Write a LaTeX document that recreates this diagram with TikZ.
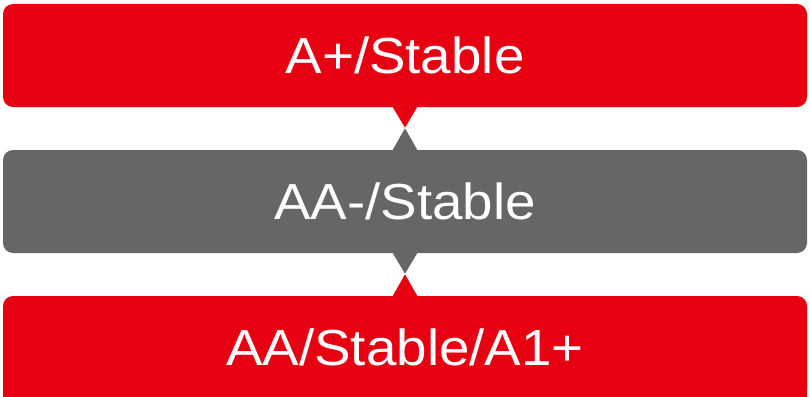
\documentclass[tikz,border=0pt]{standalone}
\usepackage{fontspec}
\setmainfont{Liberation Sans}[FakeStretch=1.08]
\definecolor{brandred}{HTML}{E60012}
\definecolor{boxgray}{HTML}{666666}
\begin{document}
\begin{tikzpicture}[x=1pt,y=-1pt,
  box/.style={rounded corners=10pt, minimum width=804pt, minimum height=103pt,
    inner sep=0pt, text=white, text height=36.3pt, text depth=0pt,
    font=\fontsize{50.7}{60}\selectfont},
  notch/.style={fill=#1}]
\useasboundingbox (0,0) rectangle (810,396);
\clip (0,0) rectangle (810,396);
\node[box, fill=brandred] (top) at (405,55.5) {A+/Stable};
\node[box, fill=boxgray] (mid) at (405,201.5) {AA-/Stable};
\fill[brandred] (3,347.5) rectangle (807,410);
\node[box, fill=brandred] (bot) at (405,347.5) {AA/Stable/A1+};
% notches
\fill[notch=brandred] ([xshift=-12.5pt,yshift=0.5pt]top.south) -- ([xshift=12.5pt,yshift=0.5pt]top.south) -- ([yshift=-20.5pt]top.south) -- cycle;
\fill[notch=boxgray] ([xshift=-12.5pt,yshift=-0.5pt]mid.north) -- ([xshift=12.5pt,yshift=-0.5pt]mid.north) -- ([yshift=21.5pt]mid.north) -- cycle;
\fill[notch=boxgray] ([xshift=-12.5pt,yshift=0.5pt]mid.south) -- ([xshift=12.5pt,yshift=0.5pt]mid.south) -- ([yshift=-20.5pt]mid.south) -- cycle;
\fill[notch=brandred] ([xshift=-12.5pt,yshift=-0.5pt]bot.north) -- ([xshift=12.5pt,yshift=-0.5pt]bot.north) -- ([yshift=21.5pt]bot.north) -- cycle;
\end{tikzpicture}
\end{document}
